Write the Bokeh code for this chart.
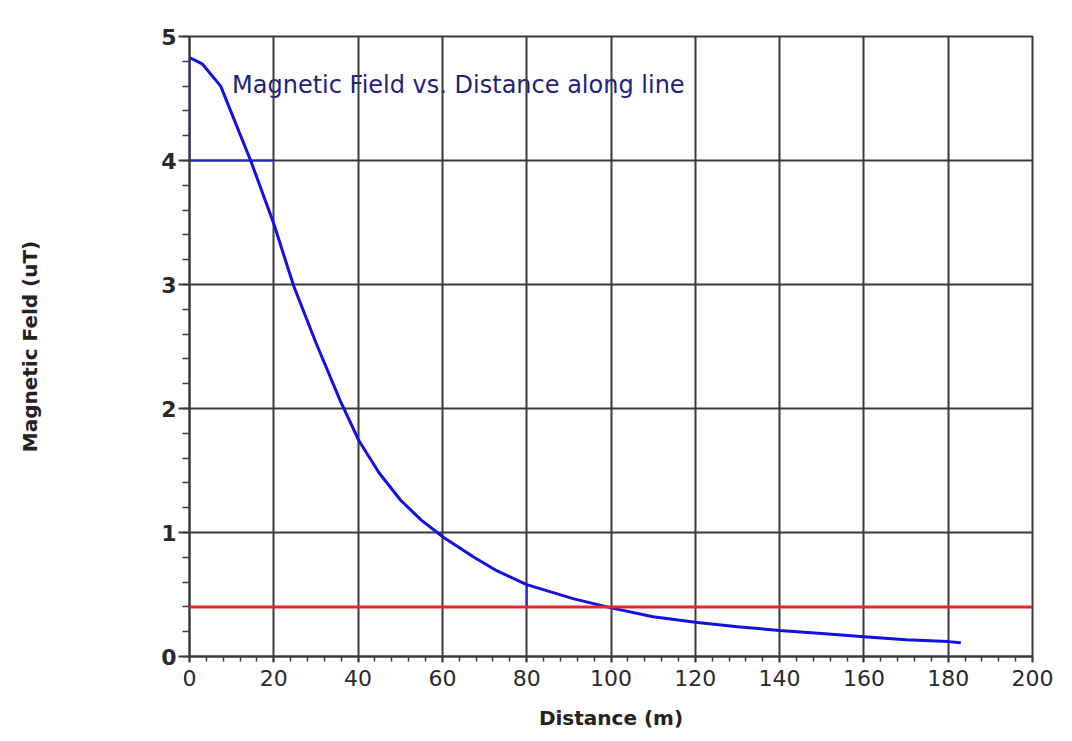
from bokeh.plotting import figure
from bokeh.models import Range1d, Span, FixedTicker
from bokeh.embed import file_html
from bokeh.resources import INLINE
from bokeh.core.properties import value

# ---- data ----
distance_m = [0, 3, 7.4, 10, 14.5, 20, 24.7, 30, 35.8, 40.2, 45, 50.1, 55, 60.3,
              67.5, 73, 80, 91.2, 100.3, 110, 120, 130, 140, 150, 160, 170, 180, 183]
field_uT = [4.83, 4.78, 4.60, 4.38, 4.00, 3.49, 2.99, 2.53, 2.06, 1.74, 1.48, 1.26, 1.10, 0.96,
            0.80, 0.69, 0.58, 0.465, 0.39, 0.32, 0.277, 0.24, 0.21, 0.185, 0.16, 0.135, 0.12, 0.11]
threshold_uT = 0.4

ref_level_uT = 4.0       # thin blue marker at 4 uT
ref_level_end_m = 20
cursor_m = 80            # thin blue cursor line

x_ticks = [0, 20, 40, 60, 80, 100, 120, 140, 160, 180, 200]
y_ticks = [0, 1, 2, 3, 4, 5]
x_minor = list(range(0, 201, 4))
y_minor = [i * 0.2 for i in range(26)]

chart_title = "Magnetic Field vs. Distance along line"
title_x, title_y = 10.1, 4.61
x_label = "Distance (m)"
y_label = "Magnetic Feld (uT)"

GRID = "#3a3a3a"
FONT = "DejaVu Sans"

p = figure(width=1064, height=733, x_range=Range1d(0, 200), y_range=Range1d(0, 5),
           output_backend="svg", toolbar_location=None,
           min_border_left=189, min_border_right=32, min_border_top=36, min_border_bottom=77)
p.background_fill_color = "white"
p.border_fill_color = "white"
p.outline_line_color = GRID
p.outline_line_width = 2

for g, t in ((p.xgrid, x_ticks), (p.ygrid, y_ticks)):
    g.ticker = FixedTicker(ticks=t)
    g.grid_line_color = GRID
    g.grid_line_width = 2
    g.grid_line_alpha = 1.0

p.xaxis.ticker = FixedTicker(ticks=x_ticks, minor_ticks=x_minor)
p.yaxis.ticker = FixedTicker(ticks=y_ticks, minor_ticks=y_minor)

for ax in (p.xaxis, p.yaxis):
    ax.axis_line_color = GRID
    ax.axis_line_width = 2
    ax.major_tick_line_color = GRID
    ax.major_tick_line_width = 2
    ax.minor_tick_line_color = GRID
    ax.minor_tick_line_width = 1.5
    ax.major_tick_in = 0
    ax.minor_tick_in = 0
    ax.major_label_text_font = FONT
    ax.major_label_text_font_size = "22px"
    ax.major_label_text_color = "#2a2a2a"
    ax.axis_label_text_font = FONT
    ax.axis_label_text_font_size = "20px"
    ax.axis_label_text_font_style = "bold"
    ax.axis_label_text_color = "#222222"

p.xaxis.major_tick_out = 6
p.xaxis.minor_tick_out = 5
p.xaxis.major_label_standoff = 7
p.xaxis.axis_label = x_label
p.xaxis.axis_label_standoff = 17

p.yaxis.major_tick_out = 11
p.yaxis.minor_tick_out = 7
p.yaxis.major_label_standoff = 2
p.yaxis.major_label_text_font_style = "bold"
p.yaxis.axis_label = y_label
p.yaxis.axis_label_standoff = 116

# title text inside plot (under grid)
p.text(x=[title_x], y=[title_y], text=[chart_title], text_font=value(FONT),
       text_font_size="24px", text_color="#22227a", text_baseline="alphabetic",
       text_align="left", level="image")

# thin blue marker lines
p.line(x=[distance_m[0], distance_m[0], ref_level_end_m],
       y=[field_uT[0], ref_level_uT, ref_level_uT], line_color="#2626c8", line_width=2)
p.segment(x0=[cursor_m], y0=[threshold_uT], x1=[cursor_m],
          y1=[field_uT[distance_m.index(cursor_m)]], line_color="#2626c8", line_width=2)

# threshold line
p.add_layout(Span(location=threshold_uT, dimension="width", line_color="#f2202a", line_width=3))

# main curve
p.line(distance_m, field_uT, line_color="#1212e0", line_width=3)

open("out.html", "w").write(file_html(p, INLINE))
